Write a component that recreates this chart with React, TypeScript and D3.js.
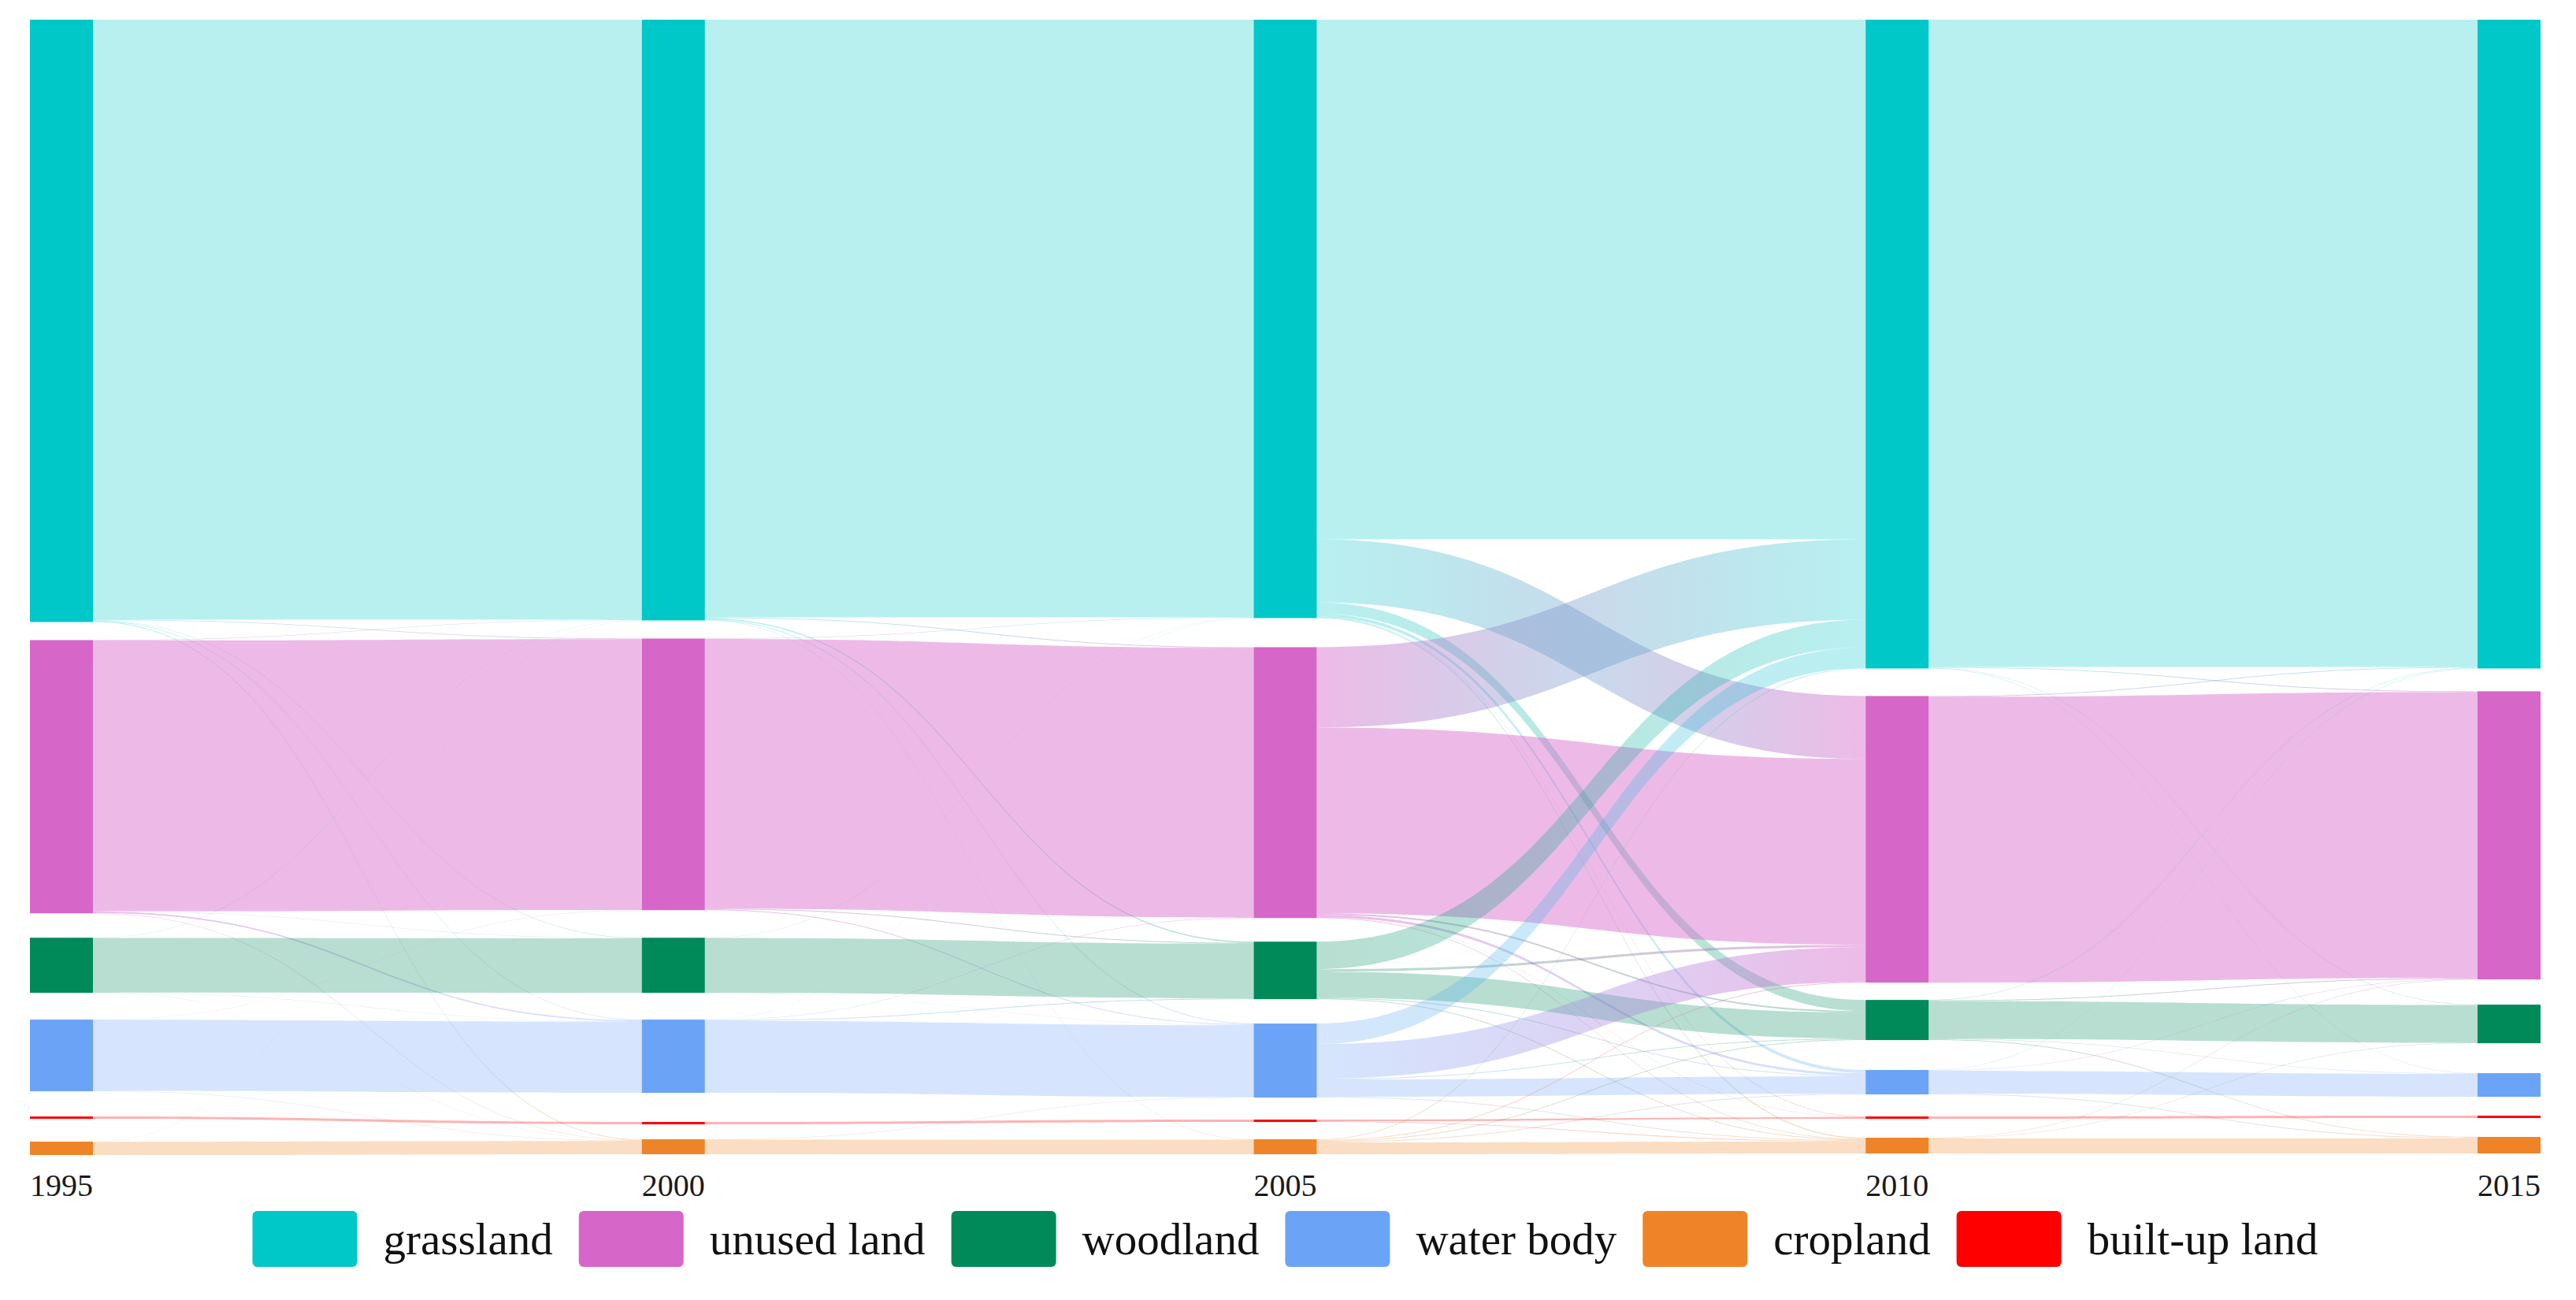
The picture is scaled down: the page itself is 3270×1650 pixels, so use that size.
import React from 'react';
import * as d3 from 'd3';

// ---------- data ----------
const years = ['1995', '2000', '2005', '2010', '2015'];
// node order, top to bottom, in every column
const landClasses = ['grassland', 'unused land', 'woodland', 'water body', 'built-up land', 'cropland'];
const legendOrder = ['grassland', 'unused land', 'woodland', 'water body', 'cropland', 'built-up land'];

// transfer matrices (rows = from class, cols = to class), same class order as landClasses
const flow1995to2000 = [
  [762, 0.8, 0.5, 0.7, 0, 1.0],
  [0.5, 344, 0.3, 1.7, 0, 0.5],
  [0.3, 0, 69.2, 0.3, 0, 0.2],
  [0, 0.2, 0, 90.3, 0, 0.5],
  [0, 0, 0, 0, 3, 0],
  [0.2, 0, 0, 0, 0, 16.8],
];
const flow2000to2005 = [
  [759, 1, 1.5, 1, 0, 0.5],
  [0.5, 342.5, 1, 1, 0, 0],
  [0.3, 0, 69.5, 0.2, 0, 0],
  [0.2, 0.5, 1, 91.3, 0, 0],
  [0, 0, 0, 0, 3, 0],
  [0, 0, 0, 0.5, 0, 18.5],
];
const flow2005to2010 = [
  [660, 80, 14, 4, 0.5, 1.5],
  [102, 236, 2, 3, 0.3, 0.7],
  [35, 3, 33, 1, 0, 1],
  [26, 44, 1, 22, 0, 1],
  [0, 0, 0, 0, 2.2, 0.8],
  [1, 1, 1, 1, 0, 15],
];
const flow2010to2015 = [
  [822, 1, 0.5, 0.5, 0, 0],
  [1, 363, 0, 0, 0, 0],
  [0.5, 1, 48, 0.5, 0, 1],
  [0.5, 0.5, 0, 29, 0, 1],
  [0, 0, 0, 0, 3, 0],
  [0, 0.5, 0.5, 0, 0, 19],
];
const transitions = [flow1995to2000, flow2000to2005, flow2005to2010, flow2010to2015];

// ---------- layout / style config ----------
// spacing between consecutive nodes of a column (in value units)
const columnGaps = [
  [23, 31, 34, 32, 29],
  [23, 35, 34, 37, 19],
  [37, 30, 31, 28, 22],
  [35, 22, 38, 28, 24],
  [29, 32, 38, 24, 24],
];
const classColors = ['#00C8C8', '#D766C9', '#008A5A', '#6BA3F7', '#FF0000', '#EE8427'];
const linkOpacity = [0.28, 0.45, 0.28, 0.28, 0.3, 0.28];

const W = 3270;
const H = 1650;
const NODE_W = 80;
const FONT = "'Times New Roman', 'Liberation Serif', serif";

function measure(text: string, font: string) {
  const c = document.createElement('canvas');
  const ctx = c.getContext('2d')!;
  ctx.font = font;
  return ctx.measureText(text).width;
}

export default function App() {
  const nCols = years.length;
  const nCls = landClasses.length;

  // node values = max(in, out)
  const nodeVals: number[][] = [];
  for (let c = 0; c < nCols; c++) {
    const vals: number[] = [];
    for (let k = 0; k < nCls; k++) {
      const out = c < nCols - 1 ? d3.sum(transitions[c][k]) : 0;
      const inn = c > 0 ? d3.sum(transitions[c - 1].map((r) => r[k])) : 0;
      vals.push(Math.max(out, inn));
    }
    nodeVals.push(vals);
  }
  const colTotals = nodeVals.map((v, c) => d3.sum(v) + d3.sum(columnGaps[c]));
  const maxTotal = d3.max(colTotals)!;

  const x = d3.scalePoint<string>().domain(years).range([38, 3145]);
  const y = d3.scaleLinear().domain([0, maxTotal]).range([25, 1466]);
  const k = (v: number) => y(v) - y(0);

  // node tops in value units
  const nodeTop: number[][] = nodeVals.map((vals, c) => {
    const tops: number[] = [];
    let acc = 0;
    vals.forEach((v, i) => {
      tops.push(acc);
      acc += v + (i < columnGaps[c].length ? columnGaps[c][i] : 0);
    });
    return tops;
  });

  // links
  type L = { path: string; s: number; t: number; xs: number; xt: number };
  const links: L[] = [];
  transitions.forEach((m, c) => {
    const outOff = nodeTop[c].slice();
    const inOff = nodeTop[c + 1].slice();
    const srcStart: number[][] = [];
    for (let s = 0; s < nCls; s++) {
      srcStart.push([]);
      for (let t = 0; t < nCls; t++) {
        srcStart[s][t] = outOff[s];
        outOff[s] += m[s][t];
      }
    }
    const tgtStart: number[][] = [];
    for (let s = 0; s < nCls; s++) tgtStart.push([]);
    for (let t = 0; t < nCls; t++) {
      for (let s = 0; s < nCls; s++) {
        tgtStart[s][t] = inOff[t];
        inOff[t] += m[s][t];
      }
    }
    const xs = x(years[c])! + NODE_W;
    const xt = x(years[c + 1])!;
    const xm = d3.interpolateNumber(xs, xt)(0.5);
    for (let s = 0; s < nCls; s++) {
      for (let t = 0; t < nCls; t++) {
        const v = m[s][t];
        if (v <= 0) continue;
        const sy0 = y(srcStart[s][t]);
        const sy1 = y(srcStart[s][t] + v);
        const ty0 = y(tgtStart[s][t]);
        const ty1 = y(tgtStart[s][t] + v);
        const p = d3.path();
        p.moveTo(xs, sy0);
        p.bezierCurveTo(xm, sy0, xm, ty0, xt, ty0);
        p.lineTo(xt, ty1);
        p.bezierCurveTo(xm, ty1, xm, sy1, xs, sy1);
        p.closePath();
        links.push({ path: p.toString(), s, t, xs, xt });
      }
    }
  });

  // legend layout
  const legendFont = `57px ${FONT}`;
  const boxW = 133;
  const boxH = 71;
  const gapBoxText = 33;
  const gapItems = 33;
  const items = legendOrder.map((name) => ({
    name,
    color: classColors[landClasses.indexOf(name)],
    tw: measure(name, legendFont),
  }));
  const legendWidth =
    d3.sum(items, (d) => boxW + gapBoxText + d.tw) + gapItems * (items.length - 1);
  const chartCenter = (x(years[0])! + x(years[nCols - 1])! + NODE_W) / 2;
  let lx = chartCenter - legendWidth / 2;
  const legendItems = items.map((d) => {
    const item = { ...d, x: lx };
    lx += boxW + gapBoxText + d.tw + gapItems;
    return item;
  });

  return (
    <svg
      width={W}
      height={H}
      style={{ position: 'absolute', left: 0, top: 0, background: '#fff' }}
    >
      <defs>
        {links.map((l, i) =>
          l.s !== l.t ? (
            <linearGradient
              key={i}
              id={`lg${i}`}
              gradientUnits="userSpaceOnUse"
              x1={l.xs}
              x2={l.xt}
              y1={0}
              y2={0}
            >
              <stop offset="0%" stopColor={classColors[l.s]} stopOpacity={linkOpacity[l.s]} />
              <stop offset="100%" stopColor={classColors[l.t]} stopOpacity={linkOpacity[l.t]} />
            </linearGradient>
          ) : null
        )}
      </defs>
      <rect x={0} y={0} width={W} height={H} fill="#fff" />
      <g>
        {links.map((l, i) =>
          l.s === l.t ? (
            <path
              key={i}
              d={l.path}
              fill={classColors[l.s]}
              fillOpacity={linkOpacity[l.s]}
              stroke="none"
            />
          ) : (
            <path key={i} d={l.path} fill={`url(#lg${i})`} stroke="none" />
          )
        )}
      </g>
      <g>
        {nodeVals.map((vals, c) =>
          vals.map((v, i) => (
            <rect
              key={`${c}-${i}`}
              x={x(years[c])!}
              y={y(nodeTop[c][i])}
              width={NODE_W}
              height={Math.max(k(v), 1)}
              fill={classColors[i]}
            />
          ))
        )}
      </g>
      <g fontFamily={FONT} fontSize={40} fill="#1a1a1a" textAnchor="middle">
        {years.map((yr) => (
          <text key={yr} x={x(yr)! + NODE_W / 2} y={1518}>
            {yr}
          </text>
        ))}
      </g>
      <g fontFamily={FONT} fontSize={57} fill="#111">
        {legendItems.map((d) => (
          <g key={d.name}>
            <rect x={d.x} y={1537} width={boxW} height={boxH} rx={6} ry={6} fill={d.color} />
            <text x={d.x + boxW + gapBoxText} y={1592}>
              {d.name}
            </text>
          </g>
        ))}
      </g>
    </svg>
  );
}
